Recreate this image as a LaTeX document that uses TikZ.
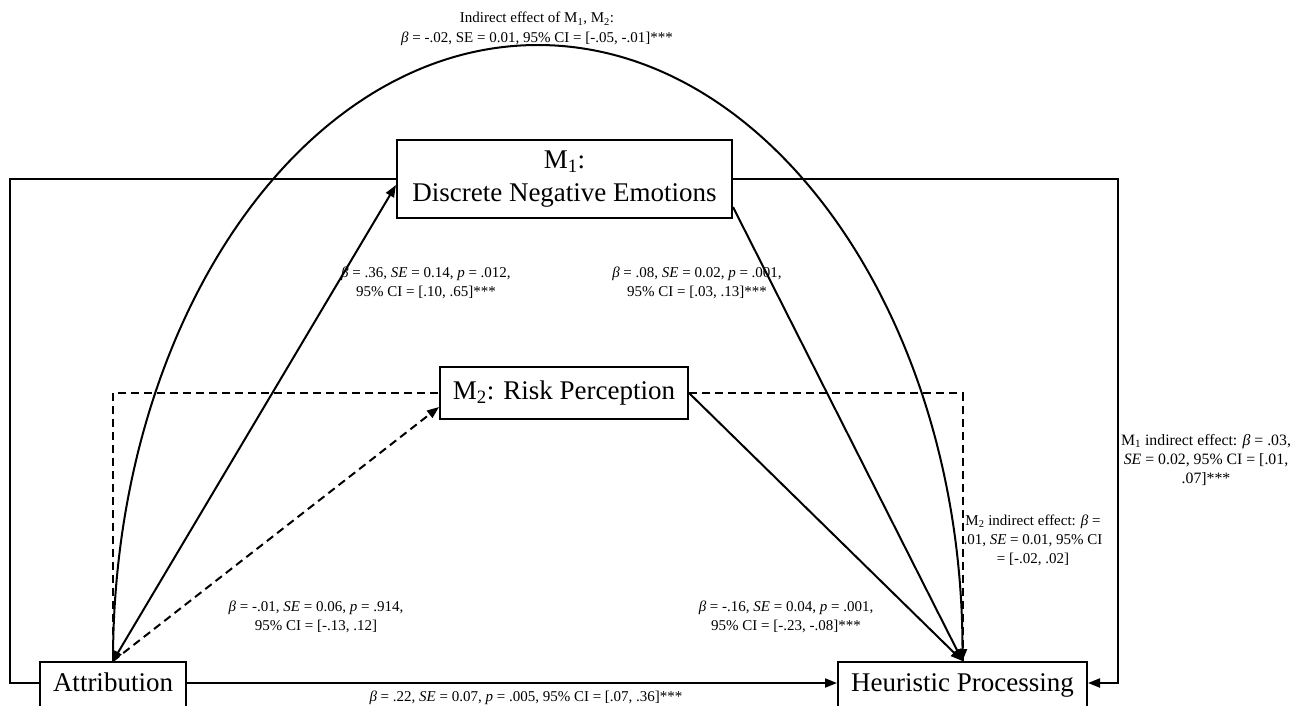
\documentclass[tikz,border=0pt]{standalone}
\usepackage{fontspec}
\setmainfont{Liberation Serif}
\usetikzlibrary{arrows.meta,calc}
\begin{document}
\begin{tikzpicture}[x=1pt,y=-1pt,
  box/.style={draw,line width=2pt,inner sep=0pt,font=\fontsize{27}{33}\selectfont},
  lbl/.style={inner sep=0pt,align=center,font=\fontsize{15}{19.5}\selectfont},
  conn/.style={line width=2pt},
  arr/.style={conn,-{Triangle[length=12pt,width=9pt]}},
  dsh/.style={dash pattern=on 8pt off 5pt}]
\useasboundingbox (0,0) rectangle (1294,705);
% nodes
\node[box,minimum width=335pt,minimum height=78pt,align=center] (m1) at (564.5,179) {M\textsubscript{1}:\\Discrete Negative Emotions};
\node[box,minimum width=248pt,minimum height=52pt] (m2) at (564,393) {M\textsubscript{2}: Risk Perception};
\node[box,anchor=north,minimum width=146pt,inner ysep=10pt,text height=19pt,text depth=40pt] (attr) at (113,661) {Attribution};
\node[box,anchor=north,minimum width=249pt,inner ysep=10pt,text height=19pt,text depth=40pt] (hp) at (962.5,661) {Heuristic Processing};
\coordinate (lcol) at (10,0);
\coordinate (rcol) at (1118,0);
% outer M1 loop
\draw[conn] ($(attr.north west)+(0,22)$) -| (lcol |- m1.west) -- (m1.west);
\draw[arr] (m1.east) -- (m1.east -| rcol) |- ($(hp.north east)+(0,22)$);
% dashed M2 loop
\draw[conn,dsh] (attr.north) |- (m2.west);
\draw[conn,dsh] (m2.east) -| (hp.north);
% direct
\draw[arr] ($(attr.north east)+(0,22)$) -- ($(hp.north west)+(0,22)$);
% paths a and b
\draw[conn,{Triangle[length=10pt,width=8pt]}-{Triangle[length=12pt,width=9pt]}] (attr.north) -- ($(m1.south west)+(0,-34)$);
\draw[arr,dsh] (attr.north) -- ($(m2.south west)+(0,-13)$);
\draw[arr] ($(m1.south east)+(0,-12)$) -- (hp.north);
\draw[arr] (m2.east) -- (hp.north);
% big arc
\draw[arr] (attr.north) arc[start angle=180,end angle=0,x radius=424.75pt,y radius=616pt];
% labels
\node[lbl] (lt) at (537,29) {Indirect effect of M\textsubscript{1}, M\textsubscript{2}:\\{\itshape β} = -.02, SE = 0.01, 95\% CI = [-.05, -.01]***};
\node[lbl] (la) at (426,283) {{\itshape β} = .36, {\itshape SE} = 0.14, {\itshape p} = .012,\\95\% CI = [.10, .65]***};
\node[lbl] (lb) at (697,283) {{\itshape β} = .08, {\itshape SE} = 0.02, {\itshape p} = .001,\\95\% CI = [.03, .13]***};
\node[lbl] (lc) at (316,617) {{\itshape β} = -.01, {\itshape SE} = 0.06, {\itshape p} = .914,\\95\% CI = [-.13, .12]};
\node[lbl] (ld) at (786,617) {{\itshape β} = -.16, {\itshape SE} = 0.04, {\itshape p} = .001,\\95\% CI = [-.23, -.08]***};
\node[lbl] (le) at (526,698) {{\itshape β} = .22, {\itshape SE} = 0.07, {\itshape p} = .005, 95\% CI = [.07, .36]***};
\node[lbl,font=\fontsize{15.8}{19}\selectfont] (lr1) at (1206,460) {M\textsubscript{1} indirect effect: {\itshape β} = .03,\\{\itshape SE} = 0.02, 95\% CI = [.01,\\.07]***};
\node[lbl,font=\fontsize{15}{19}\selectfont] (lr2) at (1033,540) {M\textsubscript{2} indirect effect: {\itshape β} =\\.01, {\itshape SE} = 0.01, 95\% CI\\= [-.02, .02]};
\end{tikzpicture}
\end{document}
